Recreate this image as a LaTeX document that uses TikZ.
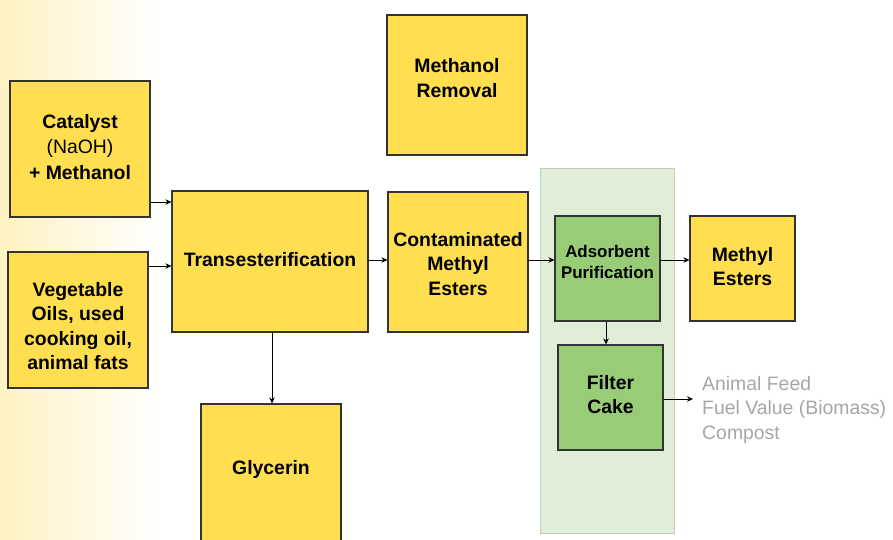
\documentclass[tikz,border=0pt]{standalone}
\usepackage{fontspec}
\setmainfont{Liberation Sans}
\usetikzlibrary{arrows.meta}
\definecolor{boxyellow}{HTML}{FFDF50}
\definecolor{boxgreen}{HTML}{99CC77}
\definecolor{panelgreen}{HTML}{E0EED8}
\definecolor{panelline}{HTML}{C4CCC0}
\definecolor{edgegray}{HTML}{333333}
\definecolor{txtgray}{HTML}{A6A6A6}
\definecolor{gradyellow}{HTML}{FFF2C2}
\tikzset{
  ybox/.style={draw=edgegray, line width=1.1pt, fill=boxyellow, inner sep=0pt, align=center,
    font=\fontsize{19.4}{24.5}\selectfont\bfseries},
  gbox/.style={draw=edgegray, line width=1.1pt, fill=boxgreen, inner sep=0pt, align=center,
    font=\fontsize{19.4}{24.5}\selectfont\bfseries},
  arr/.style={-{Stealth[length=6pt,width=5.5pt]}, line width=1pt, black},
  plain/.style={inner sep=0pt}
}
\begin{document}
\begin{tikzpicture}[x=1pt,y=-1pt]
\useasboundingbox (0,0) rectangle (893,539);
\shade[left color=gradyellow, right color=white] (0,0) rectangle (165,539);
% panel
\node[draw=panelline, line width=1pt, fill=panelgreen, minimum width=134pt, minimum height=365pt, inner sep=0pt] (panel) at (607.5,350.5) {};
% boxes
\node[ybox, minimum width=140pt, minimum height=136pt] (cat) at (80,149) {};
\node[plain, align=center, font=\fontsize{19.4}{25.5}\selectfont] at (80,147) {\bfseries Catalyst\\(NaOH)\\\bfseries + Methanol};
\node[ybox, minimum width=140pt, minimum height=136pt] (veg) at (78,320) {};
\node[plain, align=center, font=\fontsize{19.4}{24.2}\selectfont\bfseries] at (78,326) {Vegetable\\Oils, used\\cooking oil,\\animal fats};
\node[ybox, minimum width=196pt, minimum height=141pt] (trans) at (270,261.5) {};
\node[plain, font=\fontsize{19.4}{24.5}\selectfont\bfseries] at (270,260) {Transesterification};
\node[ybox, minimum width=140pt, minimum height=140pt] (meth) at (457,85) {};
\node[plain, align=center, font=\fontsize{19.4}{24.5}\selectfont\bfseries] at (457,78) {Methanol\\Removal};
\node[ybox, minimum width=140pt, minimum height=140pt] (cont) at (458,262) {};
\node[plain, align=center, font=\fontsize{19.4}{24.8}\selectfont\bfseries] at (458,264) {Contaminated\\Methyl\\Esters};
\node[gbox, minimum width=105pt, minimum height=105pt] (ads) at (607.5,268.5) {};
\node[plain, align=center, font=\fontsize{16.9}{21}\selectfont\bfseries] at (607.5,262) {Adsorbent\\Purification};
\node[gbox, minimum width=105pt, minimum height=105pt] (filt) at (610.5,397.5) {};
\node[plain, align=center, font=\fontsize{19.4}{24.5}\selectfont\bfseries] at (610.5,394.5) {Filter\\Cake};
\node[ybox, minimum width=105pt, minimum height=105pt] (mest) at (742.5,268.5) {};
\node[plain, align=center, font=\fontsize{19.4}{24.5}\selectfont\bfseries] at (742.5,266.5) {Methyl\\Esters};
\node[ybox, minimum width=140pt, minimum height=140pt] (gly) at (271,474) {};
\node[plain, font=\fontsize{19.4}{24.5}\selectfont\bfseries] at (271,469.5) {Glycerin};
\node[plain, anchor=west, align=left, text=txtgray, font=\fontsize{19.4}{24.5}\selectfont] (uses) at (702,409.5) {Animal Feed\\Fuel Value (Biomass)\\Compost};
% connector anchors
\coordinate (ca) at (0,202);
\coordinate (va) at (0,266);
\coordinate (ta) at (0,260);
\coordinate (ga) at (272,0);
\coordinate (da) at (606,0);
\coordinate (fa) at (0,399);
% connectors
\draw[arr] (cat.east |- ca) -- (trans.west |- ca);
\draw[arr] (veg.east |- va) -- (trans.west |- va);
\draw[arr] (trans.east |- ta) -- (cont.west |- ta);
\draw[arr] (cont.east |- ta) -- (ads.west |- ta);
\draw[arr] (ads.east |- ta) -- (mest.west |- ta);
\draw[arr] (trans.south -| ga) -- (gly.north -| ga);
\draw[arr] (ads.south -| da) -- (filt.north -| da);
\draw[arr] (filt.east |- fa) -- ([xshift=-9pt]uses.west |- fa);
\end{tikzpicture}
\end{document}
